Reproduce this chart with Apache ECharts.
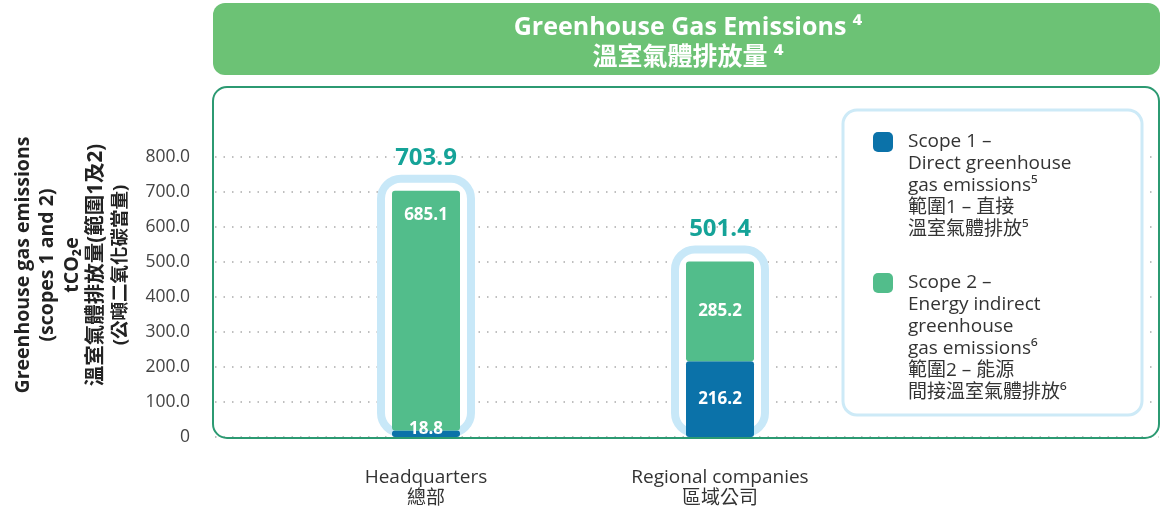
<!DOCTYPE html>
<html>
<head>
<meta charset="utf-8">
<script src="https://cdn.jsdelivr.net/npm/echarts@6/dist/echarts.min.js"></script>
<style>
  html, body { margin: 0; padding: 0; background: #fff; }
  #chart { width: 1161px; height: 512px; }
</style>
</head>
<body>
<div id="chart"></div>
<script>
// values
const categories = ['Headquarters\n總部', 'Regional companies\n區域公司'];
const scope1 = [18.8, 216.2];
const scope2 = [685.1, 285.2];
const totals = [703.9, 501.4];
const yMin = 0;
const yMax = 800;
const yStep = 100;

const legendLines = {
    'Scope 1': ['Scope 1 –', 'Direct greenhouse', 'gas emissions⁵', '範圍1 – 直接', '溫室氣體排放⁵'],
    'Scope 2': ['Scope 2 –', 'Energy indirect', 'greenhouse', 'gas emissions⁶', '範圍2 – 能源', '間接溫室氣體排放⁶']
};

const FONT = "'Open Sans', 'Noto Sans CJK TC', sans-serif";
const BLUE = '#0b72a9';
const GREEN = '#52bd8b';

// legend text is centred on the icon, so pad with blank lines above
// to keep the first line level with the square
function legendLabel(name) {
    const lines = legendLines[name];
    const blank = [];
    for (let i = 0; i < lines.length - 1; i++) blank.push('');
    return blank.concat(lines).join('\n');
}

const chart = echarts.init(document.getElementById('chart'));

chart.setOption({
    backgroundColor: '#fff',
    textStyle: { fontFamily: FONT },
    animation: false,
    graphic: [
        { // title banner
            type: 'rect', z: 1,
            shape: { x: 213, y: 3, width: 947, height: 72, r: 12 },
            style: { fill: '#6cc275' }
        },
        {
            type: 'text', z: 2,
            style: { text: 'Greenhouse Gas Emissions ⁴', x: 688, y: 28, align: 'center', verticalAlign: 'middle',
                fill: '#fff', font: 'bold 25px ' + FONT }
        },
        {
            type: 'text', z: 2,
            style: { text: '溫室氣體排放量 ⁴', x: 688, y: 58, align: 'center', verticalAlign: 'middle',
                fill: '#fff', font: 'bold 25px ' + FONT }
        },
        { // chart frame
            type: 'rect', z: 1,
            shape: { x: 213, y: 87, width: 946, height: 351, r: 14 },
            style: { fill: 'none', stroke: '#2c9a72', lineWidth: 2 }
        },
        { // legend box
            type: 'rect', z: 3,
            shape: { x: 843, y: 110, width: 299, height: 305, r: 14 },
            style: { fill: '#fff', stroke: '#cdeaf7', lineWidth: 3 }
        },
        { // y axis name
            type: 'text', z: 2,
            x: 72, y: 265, rotation: Math.PI / 2,
            style: {
                text: '{e|Greenhouse gas emissions}\n{e|(scopes 1 and 2)}\n{e|tCO₂e}\n{c1|溫室氣體排放量(範圍1及2)}\n{c2|(公噸二氧化碳當量)}',
                x: 0, y: 0, align: 'center', verticalAlign: 'middle',
                rich: {
                    e: { fill: '#222', fontFamily: FONT, fontWeight: 'bold', fontSize: 19.5, lineHeight: 24.5, align: 'center' },
                    c1: { fill: '#222', fontFamily: FONT, fontWeight: 'bold', fontSize: 20.5, lineHeight: 24.5, align: 'center' },
                    c2: { fill: '#222', fontFamily: FONT, fontWeight: 'bold', fontSize: 18.5, lineHeight: 24.5, align: 'center' }
                }
            }
        }
    ],
    legend: {
        orient: 'vertical',
        left: 873,
        top: 43,
        padding: 0,
        itemWidth: 20,
        itemHeight: 20,
        itemGap: -79,
        icon: 'roundRect',
        selectedMode: false,
        textStyle: { fontSize: 19, color: '#333', lineHeight: 22, fontFamily: FONT, padding: [0, 0, 0, 10] },
        formatter: legendLabel,
        data: ['Scope 1', 'Scope 2']
    },
    grid: [
        { left: 215, right: 2, top: 157, height: 280 },
        { left: 279, right: 294, top: 157, height: 280 }
    ],
    xAxis: [
        { gridIndex: 0, type: 'category', data: categories, show: false },
        {
            gridIndex: 1, type: 'category', data: categories,
            axisLine: { show: false }, axisTick: { show: false },
            axisLabel: { fontSize: 19, color: '#333', lineHeight: 21, margin: 30, fontFamily: FONT }
        }
    ],
    yAxis: [
        {
            gridIndex: 0, type: 'value', min: yMin, max: yMax, interval: yStep,
            axisLine: { show: false }, axisTick: { show: false },
            axisLabel: {
                fontSize: 17.5, color: '#444', margin: 25, fontFamily: FONT,
                formatter: function (v) { return v === 0 ? '0' : v.toFixed(1); }
            },
            splitLine: { lineStyle: { color: '#aaa', width: 1.5, type: [1.5, 7] } }
        },
        { gridIndex: 1, type: 'value', min: yMin, max: yMax, interval: yStep, show: false, splitLine: { show: false } }
    ],
    series: [
        {
            type: 'custom',
            xAxisIndex: 1, yAxisIndex: 1,
            z: 1,
            silent: true,
            data: totals.map(function (t, i) { return [i, t]; }),
            encode: { x: 0, y: 1 },
            renderItem: function (params, api) {
                const top = api.coord([api.value(0), api.value(1)]);
                const base = api.coord([api.value(0), 0]);
                return {
                    type: 'group',
                    children: [
                        {
                            type: 'rect',
                            shape: { x: top[0] - 45, y: top[1] - 12, width: 90, height: base[1] - top[1] + 8, r: 20 },
                            style: { fill: '#fff', stroke: '#c8e8f8', lineWidth: 8 }
                        },
                        {
                            type: 'text',
                            style: {
                                text: api.value(1).toFixed(1), x: top[0], y: top[1] - 32,
                                align: 'center', verticalAlign: 'middle',
                                fill: '#15a398', font: 'bold 24px ' + FONT
                            }
                        }
                    ]
                };
            }
        },
        {
            name: 'Scope 1',
            type: 'bar',
            xAxisIndex: 1, yAxisIndex: 1,
            stack: 'total',
            barWidth: 68,
            z: 3,
            itemStyle: { color: BLUE, borderRadius: 3 },
            label: {
                show: true, position: 'inside', color: '#fff', fontSize: 17, fontWeight: 'bold',
                formatter: function (p) { return p.value.toFixed(1); }
            },
            data: scope1.map(function (v, i) {
                return i === 0 ? { value: v, label: { offset: [0, -5] } } : v;
            })
        },
        {
            name: 'Scope 2',
            type: 'bar',
            xAxisIndex: 1, yAxisIndex: 1,
            stack: 'total',
            barWidth: 68,
            z: 3,
            itemStyle: { color: GREEN, borderRadius: 3 },
            label: {
                show: true, position: 'inside', color: '#fff', fontSize: 17, fontWeight: 'bold',
                formatter: function (p) { return p.value.toFixed(1); }
            },
            data: scope2.map(function (v, i) {
                return i === 0 ? { value: v, label: { position: 'insideTop', distance: 16 } } : v;
            })
        }
    ]
});
</script>
</body>
</html>
